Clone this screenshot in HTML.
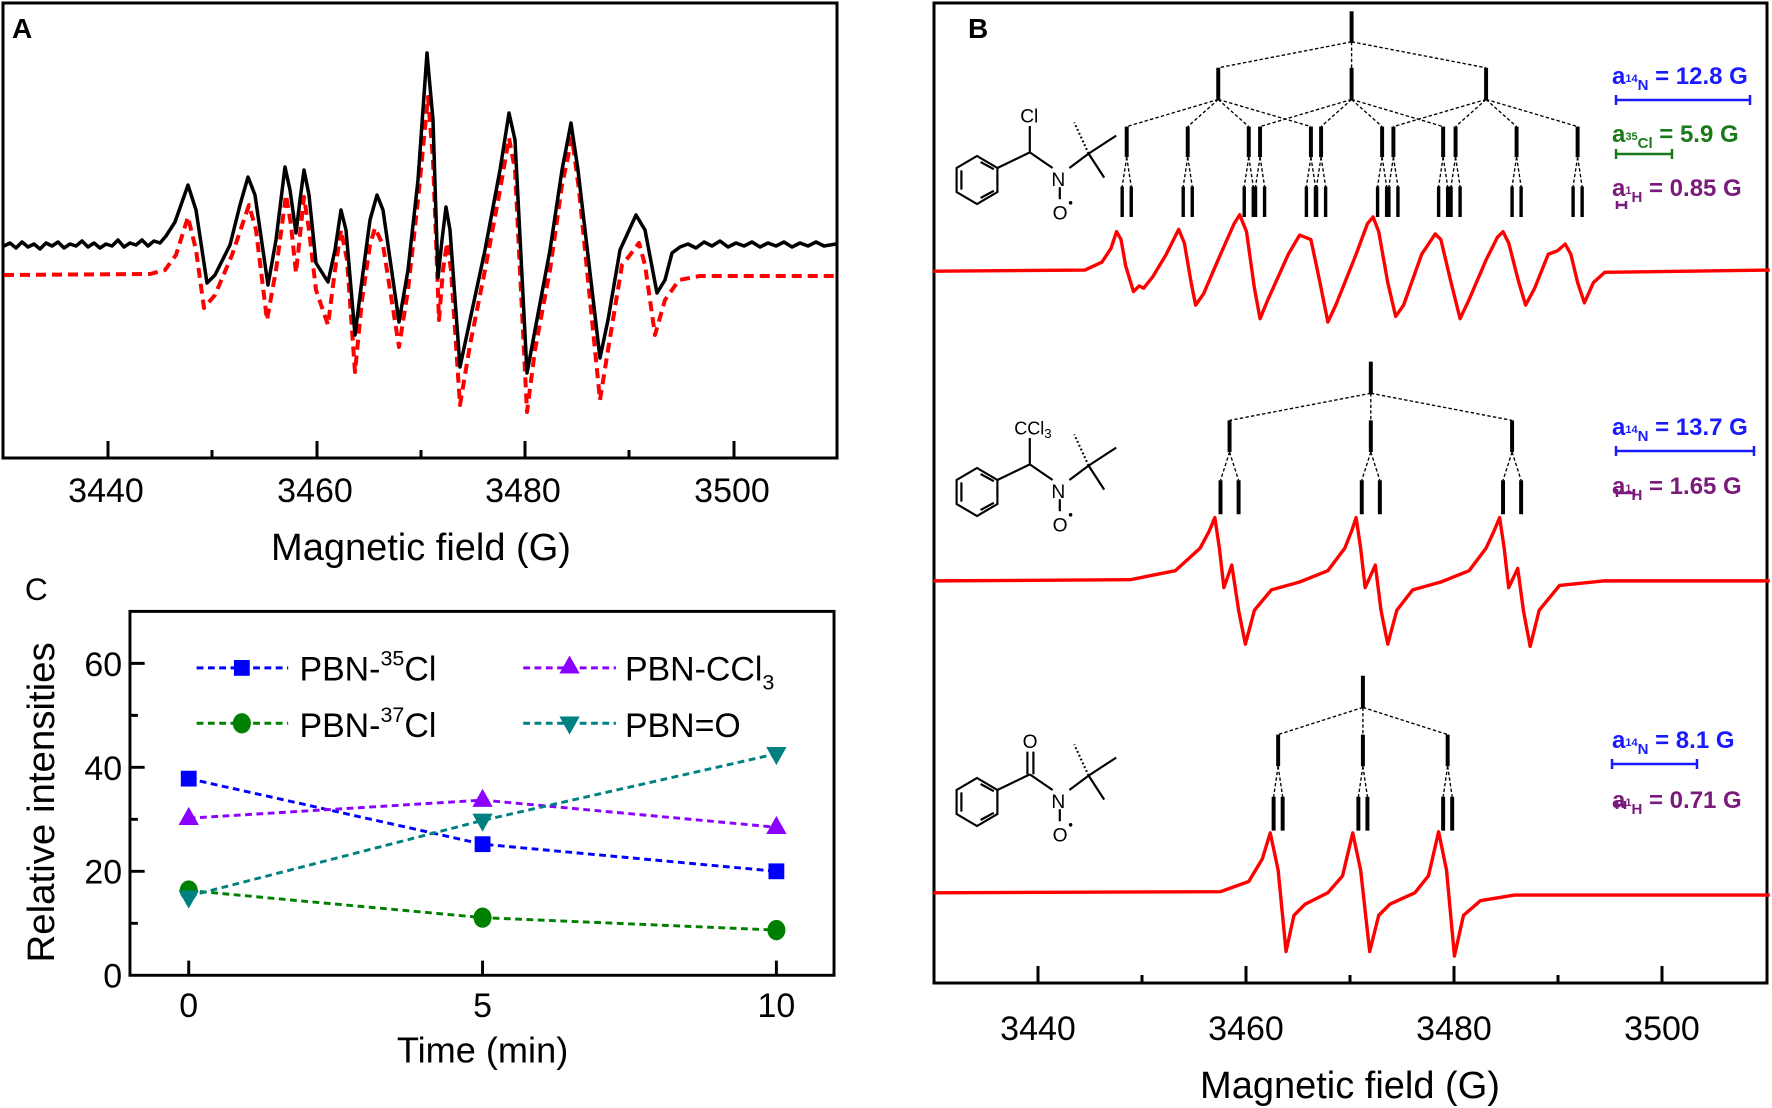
<!DOCTYPE html>
<html><head><meta charset="utf-8"><style>
html,body{margin:0;padding:0;background:#fff}
svg{display:block}
text{font-family:"Liberation Sans",Arial,sans-serif}
</style></head><body>
<svg width="1772" height="1108" viewBox="0 0 1772 1108" xmlns="http://www.w3.org/2000/svg">
<rect width="1772" height="1108" fill="#fff"/>

<!-- ================= PANEL A (original coords) ================= -->
<rect x="3" y="3" width="834" height="455" fill="none" stroke="#000" stroke-width="3"/>
<text x="12" y="38" font-size="28" font-weight="bold">A</text>
<g stroke="#000" stroke-width="3">
<line x1="108" y1="458" x2="108" y2="441"/><line x1="317" y1="458" x2="317" y2="441"/>
<line x1="525" y1="458" x2="525" y2="441"/><line x1="734" y1="458" x2="734" y2="441"/>
<line x1="212" y1="458" x2="212" y2="450"/><line x1="421" y1="458" x2="421" y2="450"/>
<line x1="629" y1="458" x2="629" y2="450"/>
</g>
<g font-size="34" text-anchor="middle">
<text x="106" y="502">3440</text><text x="315" y="502">3460</text>
<text x="523" y="502">3480</text><text x="732" y="502">3500</text>
</g>
<text x="421" y="560" font-size="38" text-anchor="middle">Magnetic field (G)</text>

<path fill="none" stroke="#ff0000" stroke-width="4" stroke-dasharray="10,6" stroke-linejoin="round"
d="M4,275 L150,274 L165,270 L176,255 L188,217 L196,250 L204,308 L215,295 L232,255 L249,205 L256,230 L267,320 L276,270 L286,195 L291,225 L296,273 L300,235 L304,197 L309,230 L316,290 L328,325 L335,270 L341,230 L347,260 L355,372 L362,300 L370,245 L375,228 L383,245 L399,347 L408,290 L418,200 L428,97 L433,160 L439,320 L443,270 L447,243 L451,270 L460,405 L470,345 L485,270 L500,190 L509,138 L515,170 L527,412 L535,350 L550,270 L562,185 L572,138 L579,190 L600,400 L608,350 L622,265 L630,255 L639,243 L645,265 L655,335 L665,300 L679,280 L700,276 L836,276"/>

<path fill="none" stroke="#000" stroke-width="3.5" stroke-linejoin="round"
d="M4,246 L10,243 L16,248 L22,242 L28,247 L34,244 L40,249 L46,243 L52,246 L58,242 L64,248 L70,244 L76,246 L82,241 L88,247 L94,243 L100,248 L106,244 L112,246 L118,240 L124,247 L130,243 L136,245 L142,240 L148,246 L154,241 L160,243 L166,236 L175,222 L188,185 L196,210 L207,283 L215,275 L230,245 L240,205 L248,177 L255,195 L268,285 L276,240 L285,167 L290,190 L296,233 L300,200 L304,170 L309,195 L316,263 L328,282 L335,250 L341,210 L346,230 L355,335 L362,280 L370,220 L377,195 L383,210 L399,322 L408,270 L418,180 L427,53 L433,120 L438,278 L442,240 L446,207 L450,230 L460,367 L470,320 L485,250 L500,170 L509,113 L515,140 L527,373 L535,330 L550,250 L562,170 L571,123 L578,170 L600,358 L608,320 L620,250 L636,215 L645,230 L657,293 L665,280 L672,253 L680,247 L688,244 L696,248 L704,242 L712,246 L720,241 L728,247 L736,243 L744,246 L752,242 L760,247 L768,243 L776,246 L784,242 L792,247 L800,243 L808,246 L816,242 L824,246 L836,244"/>

<!-- ================= PANEL B ================= -->
<rect x="934" y="3" width="833" height="980" fill="none" stroke="#000" stroke-width="3"/>
<text x="968" y="38" font-size="28" font-weight="bold">B</text>
<g stroke="#000" stroke-width="3">
<line x1="1038" y1="983" x2="1038" y2="966"/><line x1="1246" y1="983" x2="1246" y2="966"/>
<line x1="1454" y1="983" x2="1454" y2="966"/><line x1="1662" y1="983" x2="1662" y2="966"/>
<line x1="1142" y1="983" x2="1142" y2="975"/><line x1="1350" y1="983" x2="1350" y2="975"/>
<line x1="1558" y1="983" x2="1558" y2="975"/>
</g>
<g font-size="34" text-anchor="middle">
<text x="1038" y="1040">3440</text><text x="1246" y="1040">3460</text>
<text x="1454" y="1040">3480</text><text x="1662" y="1040">3500</text>
</g>
<text x="1350" y="1098" font-size="38" text-anchor="middle">Magnetic field (G)</text>

<g transform="scale(1.1301)">
<!-- spectra -->
<g fill="none" stroke="#ff0000" stroke-width="3" stroke-linejoin="round">
<path d="M826,240 L960,239 L975,232 L983,220 L988,205 L992,212 L996,235 L1003,258 L1008,253 L1012,255 L1020,245 L1032,225 L1043,203 L1048,215 L1054,250 L1058,270 L1065,260 L1080,225 L1092,198 L1097,190 L1103,205 L1110,255 L1115,282 L1122,265 L1140,225 L1150,208 L1155,210 L1160,212 L1168,250 L1175,285 L1182,270 L1200,225 L1210,198 L1215,192 L1220,205 L1228,250 L1235,280 L1242,270 L1258,225 L1270,207 L1275,212 L1284,250 L1292,282 L1300,265 L1315,230 L1325,210 L1330,205 L1335,215 L1344,250 L1350,270 L1358,255 L1370,225 L1378,222 L1385,216 L1390,225 L1396,250 L1402,268 L1410,250 L1420,241 L1566,239"/>
<path d="M826,514 L1000,513 L1040,505 L1062,485 L1070,470 L1075,458 L1079,485 L1083,520 L1090,500 L1096,540 L1102,570 L1110,540 L1125,522 L1150,515 L1175,505 L1190,485 L1196,470 L1200,458 L1204,485 L1208,520 L1217,500 L1222,540 L1228,570 L1236,540 L1250,522 L1275,515 L1300,505 L1315,485 L1322,470 L1327,458 L1331,485 L1335,520 L1343,503 L1348,540 L1354,572 L1362,540 L1380,518 L1420,514 L1566,514"/>
<path d="M826,790 L1080,789 L1105,780 L1117,760 L1124,737 L1131,770 L1138,842 L1145,810 L1155,800 L1175,790 L1188,775 L1197,737 L1204,770 L1212,842 L1220,810 L1230,800 L1252,790 L1264,775 L1273,736 L1280,770 L1287,846 L1295,810 L1310,797 L1340,792 L1566,792"/>
</g>

<!-- stick diagram top -->
<g transform="translate(-95,0)">
<g stroke="#000" stroke-width="3.5">
<line x1="1291" y1="10" x2="1291" y2="37"/>
<line x1="1173" y1="60" x2="1173" y2="88"/><line x1="1291" y1="60" x2="1291" y2="88"/><line x1="1410" y1="60" x2="1410" y2="88"/>
<line x1="1092" y1="112" x2="1092" y2="139"/><line x1="1146" y1="112" x2="1146" y2="139"/><line x1="1200" y1="112" x2="1200" y2="139"/><line x1="1255" y1="112" x2="1255" y2="139"/>
<line x1="1210" y1="112" x2="1210" y2="139"/><line x1="1264" y1="112" x2="1264" y2="139"/><line x1="1318" y1="112" x2="1318" y2="139"/><line x1="1372" y1="112" x2="1372" y2="139"/>
<line x1="1328" y1="112" x2="1328" y2="139"/><line x1="1383" y1="112" x2="1383" y2="139"/><line x1="1437" y1="112" x2="1437" y2="139"/><line x1="1491" y1="112" x2="1491" y2="139"/>
</g>
<g stroke="#000" stroke-width="3">
<path d="M1088,165v27M1096,165v27M1142,165v27M1150,165v27M1196,165v27M1204,165v27M1251,165v27M1259,165v27M1206,165v27M1214,165v27M1260,165v27M1268,165v27M1314,165v27M1322,165v27M1368,165v27M1376,165v27M1324,165v27M1332,165v27M1379,165v27M1387,165v27M1433,165v27M1441,165v27M1487,165v27M1495,165v27"/>
</g>
<g stroke="#000" stroke-width="1.2" stroke-dasharray="3,2" fill="none">
<path d="M1291,37L1173,60M1291,37L1291,60M1291,37L1410,60"/>
<path d="M1173,88L1092,112M1173,88L1146,112M1173,88L1200,112M1173,88L1255,112M1291,88L1210,112M1291,88L1264,112M1291,88L1318,112M1291,88L1372,112M1410,88L1328,112M1410,88L1383,112M1410,88L1437,112M1410,88L1491,112"/>
<path d="M1092,139L1088,165M1092,139L1096,165M1146,139L1142,165M1146,139L1150,165M1200,139L1196,165M1200,139L1204,165M1255,139L1251,165M1255,139L1259,165M1210,139L1206,165M1210,139L1214,165M1264,139L1260,165M1264,139L1268,165M1318,139L1314,165M1318,139L1322,165M1372,139L1368,165M1372,139L1376,165M1328,139L1324,165M1328,139L1332,165M1383,139L1379,165M1383,139L1387,165M1437,139L1433,165M1437,139L1441,165M1491,139L1487,165M1491,139L1495,165"/>
</g>
</g>

<!-- stick diagram middle -->
<g stroke="#000" stroke-width="3.5">
<path d="M1213,320v28M1088,372v28M1213,372v28M1338,372v28M1080,425v30M1096,425v30M1205,425v30M1221,425v30M1330,425v30M1346,425v30"/>
</g>
<g stroke="#000" stroke-width="1.2" stroke-dasharray="3,2" fill="none">
<path d="M1213,348L1088,372M1213,348L1213,372M1213,348L1338,372M1088,400L1080,425M1088,400L1096,425M1213,400L1205,425M1213,400L1221,425M1338,400L1330,425M1338,400L1346,425"/>
</g>

<!-- stick diagram bottom -->
<g stroke="#000" stroke-width="3.5">
<path d="M1206,598v28M1131,650v28M1206,650v28M1281,650v28M1127,705v30M1135,705v30M1202,705v30M1210,705v30M1277,705v30M1285,705v30"/>
</g>
<g stroke="#000" stroke-width="1.2" stroke-dasharray="3,2" fill="none">
<path d="M1206,626L1131,650M1206,626L1206,650M1206,626L1281,650M1131,678L1127,705M1131,678L1135,705M1206,678L1202,705M1206,678L1210,705M1281,678L1277,705M1281,678L1285,705"/>
</g>
</g>

<!-- hyperfine labels (original coords) -->
<g font-size="24" font-weight="bold">
<text x="1612" y="84" fill="#1a1aff">a<tspan font-size="11" dy="-2">14</tspan><tspan font-size="15" dy="8">N</tspan><tspan dy="-6"> = 12.8 G</tspan></text>
<text x="1612" y="142" fill="#1a7a1a">a<tspan font-size="11" dy="-2">35</tspan><tspan font-size="15" dy="8">Cl</tspan><tspan dy="-6"> = 5.9 G</tspan></text>
<text x="1612" y="196" fill="#7a1a7a">a<tspan font-size="11" dy="-2">1</tspan><tspan font-size="15" dy="8">H</tspan><tspan dy="-6"> = 0.85 G</tspan></text>
<text x="1612" y="435" fill="#1a1aff">a<tspan font-size="11" dy="-2">14</tspan><tspan font-size="15" dy="8">N</tspan><tspan dy="-6"> = 13.7 G</tspan></text>
<text x="1612" y="494" fill="#7a1a7a">a<tspan font-size="11" dy="-2">1</tspan><tspan font-size="15" dy="8">H</tspan><tspan dy="-6"> = 1.65 G</tspan></text>
<text x="1612" y="748" fill="#1a1aff">a<tspan font-size="11" dy="-2">14</tspan><tspan font-size="15" dy="8">N</tspan><tspan dy="-6"> = 8.1 G</tspan></text>
<text x="1612" y="808" fill="#7a1a7a">a<tspan font-size="11" dy="-2">1</tspan><tspan font-size="15" dy="8">H</tspan><tspan dy="-6"> = 0.71 G</tspan></text>
</g>
<g stroke-width="2.5">
<path d="M1616,100H1750M1616,95v10M1750,95v10" stroke="#1a1aff"/>
<path d="M1616,154H1672M1616,149v10M1672,149v10" stroke="#1a7a1a"/>
<path d="M1617,205H1626M1617,201v8M1626,201v8" stroke="#7a1a7a"/>
<path d="M1616,451H1754M1616,446v10M1754,446v10" stroke="#1a1aff"/>
<path d="M1617,493H1634M1617,489v8M1634,489v8" stroke="#7a1a7a"/>
<path d="M1612,764H1697M1612,759v10M1697,759v10" stroke="#1a1aff"/>
<path d="M1617,805H1625M1617,801v8M1625,801v8" stroke="#7a1a7a"/>
</g>

<!-- molecules -->
<defs>
<g id="ph" fill="none" stroke="#000" stroke-width="1.8">
<polygon points="977,160 994,170 994,190 977,200 960,190 960,170"/>
<path d="M964,172 V188 M980,195 L991,189 M980,165 L991,171"/>
<path d="M994,170 L1021,157"/>
</g>
</defs>
<g transform="translate(977,180) scale(1.2) translate(-977,-180)">
<g>
<use href="#ph"/>
<g fill="none" stroke="#000" stroke-width="1.8"><path d="M1021,157 L1021,135 M1021,157 L1040,170 M1054,170 L1070,158 M1070,158 L1093,143 M1070,158 L1083,178 M1046,186 V196"/><path d="M1070,158 L1058,132" stroke-dasharray="1.5,2"/></g>
<text x="1013" y="132" font-size="16">Cl</text><text x="1039" y="185" font-size="16">N</text><text x="1040" y="213" font-size="16">O</text><circle cx="1055" cy="199" r="1.5"/>
</g>
</g>
<g transform="translate(0,312) translate(977,180) scale(1.2) translate(-977,-180)">
<use href="#ph"/>
<g fill="none" stroke="#000" stroke-width="1.8"><path d="M1021,157 L1021,135 M1021,157 L1040,170 M1054,170 L1070,158 M1070,158 L1093,143 M1070,158 L1083,178 M1046,186 V196"/><path d="M1070,158 L1058,132" stroke-dasharray="1.5,2"/></g>
<text x="1008" y="132" font-size="15">CCl<tspan font-size="11" dy="3">3</tspan></text><text x="1039" y="185" font-size="16">N</text><text x="1040" y="213" font-size="16">O</text><circle cx="1055" cy="199" r="1.5"/>
</g>
<g transform="translate(0,622) translate(977,180) scale(1.2) translate(-977,-180)">
<use href="#ph"/>
<g fill="none" stroke="#000" stroke-width="1.8"><path d="M1019,157 L1019,138 M1024,157 L1024,138 M1021,157 L1040,170 M1054,170 L1070,158 M1070,158 L1093,143 M1070,158 L1083,178 M1046,186 V196"/><path d="M1070,158 L1058,132" stroke-dasharray="1.5,2"/></g>
<text x="1015" y="135" font-size="16">O</text><text x="1039" y="185" font-size="16">N</text><text x="1040" y="213" font-size="16">O</text><circle cx="1055" cy="199" r="1.5"/>
</g>

<!-- ================= PANEL C (display coords) ================= -->
<g transform="scale(1.1301)">
<text x="22" y="531" font-size="28">C</text>
<rect x="115" y="541" width="623" height="322" fill="none" stroke="#000" stroke-width="2.6"/>
<g stroke="#000" stroke-width="2.6">
<path d="M115,587h13M115,679h13M115,771h13M115,633h7M115,725h7M115,817h7"/>
<path d="M167,863v-13M427,863v-13M687,863v-13"/>
</g>
<g font-size="30" text-anchor="end">
<text x="108" y="598">60</text><text x="108" y="690">40</text><text x="108" y="782">20</text><text x="108" y="874">0</text>
</g>
<g font-size="30" text-anchor="middle">
<text x="167" y="900">0</text><text x="427" y="900">5</text><text x="687" y="900">10</text>
</g>
<text x="427" y="940" font-size="32" text-anchor="middle">Time (min)</text>
<text transform="translate(48,710) rotate(-90)" font-size="34" text-anchor="middle">Relative intensities</text>

<g fill="none" stroke-width="2.6" stroke-dasharray="6,4">
<polyline points="167,689 427,747 687,771" stroke="#0000ff"/>
<polyline points="167,788 427,812 687,823" stroke="#008000"/>
<polyline points="167,724 427,708 687,732" stroke="#8b00ff"/>
<polyline points="167,793 427,726 687,667" stroke="#008080"/>
</g>
<g fill="#0000ff"><rect x="160" y="682" width="14" height="14"/><rect x="420" y="740" width="14" height="14"/><rect x="680" y="764" width="14" height="14"/></g>
<g fill="#008000"><ellipse cx="167" cy="788" rx="8" ry="9"/><ellipse cx="427" cy="812" rx="8" ry="9"/><ellipse cx="687" cy="823" rx="8" ry="9"/></g>
<g fill="#8b00ff"><polygon points="167,714 158,730 176,730"/><polygon points="427,698 418,714 436,714"/><polygon points="687,722 678,738 696,738"/></g>
<g fill="#008080"><polygon points="158,788 176,788 167,804"/><polygon points="418,720 436,720 427,736"/><polygon points="678,661 696,661 687,677"/></g>

<g fill="none" stroke-width="2.6" stroke-dasharray="6,4">
<path d="M174,591H255" stroke="#0000ff"/><path d="M174,640H255" stroke="#008000"/>
<path d="M463,591H545" stroke="#8b00ff"/><path d="M463,640H545" stroke="#008080"/>
</g>
<rect x="207" y="584" width="14" height="14" fill="#0000ff"/>
<ellipse cx="214" cy="640" rx="8" ry="9" fill="#008000"/>
<polygon points="504,580 495,596 513,596" fill="#8b00ff"/>
<polygon points="495,634 513,634 504,650" fill="#008080"/>
<g font-size="30">
<text x="265" y="602">PBN-<tspan font-size="19" dy="-13">35</tspan><tspan dy="13">Cl</tspan></text>
<text x="265" y="652">PBN-<tspan font-size="19" dy="-13">37</tspan><tspan dy="13">Cl</tspan></text>
<text x="553" y="602">PBN-CCl<tspan font-size="19" dy="8">3</tspan></text>
<text x="553" y="652">PBN=O</text>
</g>
</g>
</svg>
</body></html>
